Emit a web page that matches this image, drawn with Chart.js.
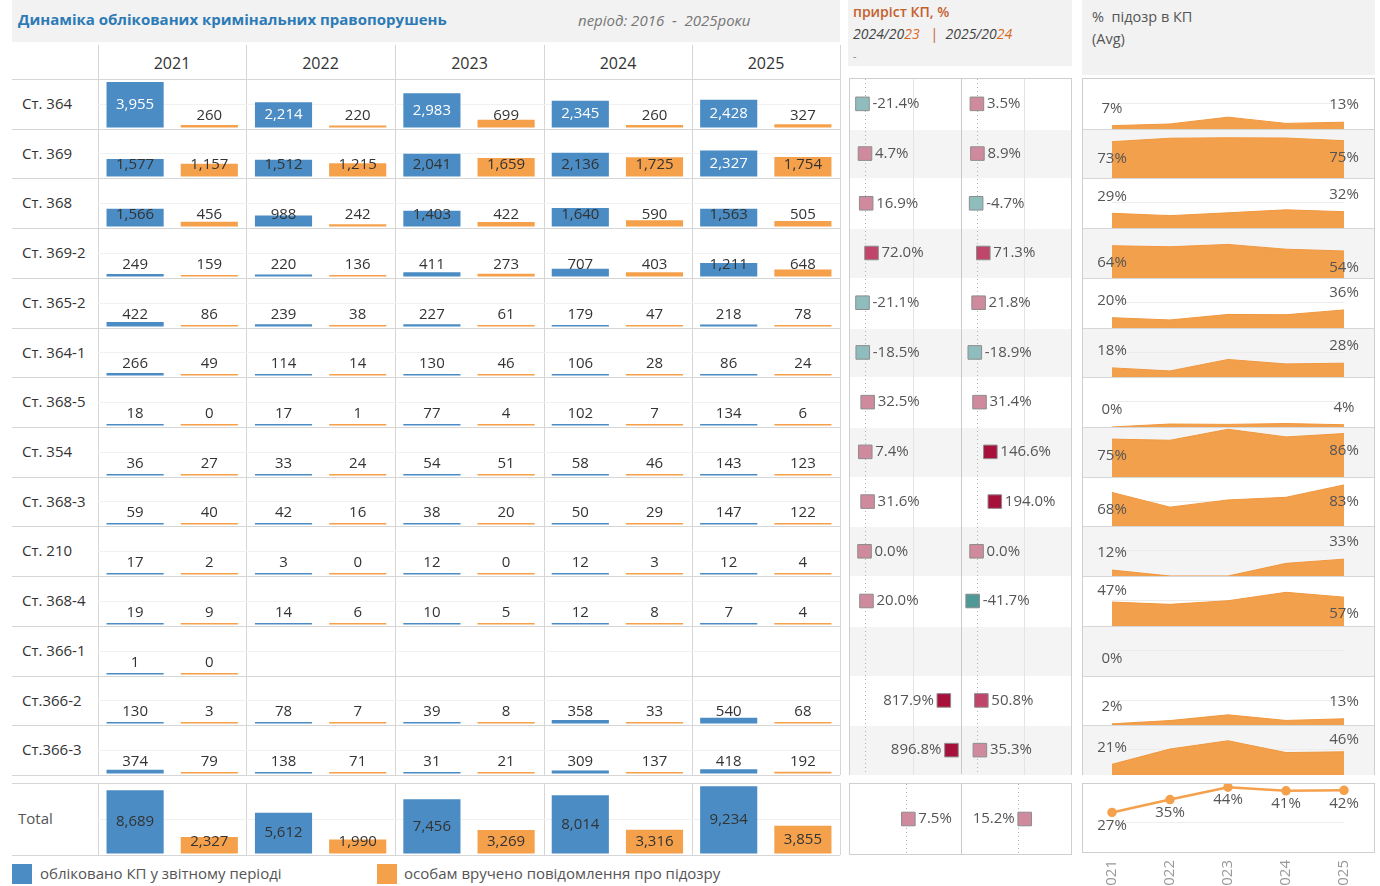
<!DOCTYPE html>
<html>
<head>
<meta charset="utf-8">
<script src="https://cdn.jsdelivr.net/npm/chart.js@4.4.1/dist/chart.umd.min.js"></script>
<style>
  body { margin: 0; background: #fff; }
  #root { position: relative; width: 1380px; height: 886px; overflow: hidden; font-family: 'Open Sans', 'Noto Sans', sans-serif; color: #333; }
  #root div, #root canvas { position: absolute; }
  .t { white-space: nowrap; line-height: 1; }
</style>
</head>
<body>
<div id="root"></div>
<script>
// ---- data ----
const years = ['2021', '2022', '2023', '2024', '2025'];
const articles = ['Ст. 364', 'Ст. 369', 'Ст. 368', 'Ст. 369-2', 'Ст. 365-2', 'Ст. 364-1', 'Ст. 368-5',
  'Ст. 354', 'Ст. 368-3', 'Ст. 210', 'Ст. 368-4', 'Ст. 366-1', 'Ст.366-2', 'Ст.366-3'];

// обліковано КП у звітному періоді
const registered = [
  [3955, 2214, 2983, 2345, 2428],
  [1577, 1512, 2041, 2136, 2327],
  [1566, 988, 1403, 1640, 1563],
  [249, 220, 411, 707, 1211],
  [422, 239, 227, 179, 218],
  [266, 114, 130, 106, 86],
  [18, 17, 77, 102, 134],
  [36, 33, 54, 58, 143],
  [59, 42, 38, 50, 147],
  [17, 3, 12, 12, 12],
  [19, 14, 10, 12, 7],
  [1, null, null, null, null],
  [130, 78, 39, 358, 540],
  [374, 138, 31, 309, 418]
];
// особам вручено повідомлення про підозру
const suspected = [
  [260, 220, 699, 260, 327],
  [1157, 1215, 1659, 1725, 1754],
  [456, 242, 422, 590, 505],
  [159, 136, 273, 403, 648],
  [86, 38, 61, 47, 78],
  [49, 14, 46, 28, 24],
  [0, 1, 4, 7, 6],
  [27, 24, 51, 46, 123],
  [40, 16, 20, 29, 122],
  [2, 0, 0, 3, 4],
  [9, 6, 5, 8, 4],
  [0, null, null, null, null],
  [3, 7, 8, 33, 68],
  [79, 71, 21, 137, 192]
];
const totalRegistered = [8689, 5612, 7456, 8014, 9234];
const totalSuspected = [2327, 1990, 3269, 3316, 3855];

// приріст КП, %
const growth2024 = [-21.4, 4.7, 16.9, 72.0, -21.1, -18.5, 32.5, 7.4, 31.6, 0.0, 20.0, null, 817.9, 896.8];
const growth2025 = [3.5, 8.9, -4.7, 71.3, 21.8, -18.9, 31.4, 146.6, 194.0, 0.0, -41.7, null, 50.8, 35.3];
const totalGrowth2024 = 7.5;
const totalGrowth2025 = 15.2;

// % підозр в КП (Avg)
const suspectShare = [
  [6.57, 9.94, 23.43, 11.09, 13.47],
  [73.37, 80.36, 81.28, 80.76, 75.38],
  [29.12, 24.49, 30.08, 35.98, 32.31],
  [63.86, 61.82, 66.42, 57.00, 53.51],
  [20.38, 15.90, 26.87, 26.26, 35.78],
  [18.42, 12.28, 35.38, 26.42, 27.91],
  [0.00, 5.88, 5.19, 6.86, 4.48],
  [75.00, 72.73, 94.44, 79.31, 86.01],
  [67.80, 38.10, 52.63, 58.00, 82.99],
  [11.76, 0.00, 0.00, 25.00, 33.33],
  [47.37, 42.86, 50.00, 66.67, 57.14],
  [0.00, null, null, null, null],
  [2.31, 8.97, 20.51, 9.22, 12.59],
  [21.12, 51.45, 67.74, 44.34, 45.93]
];
const totalShare = [26.78, 35.46, 43.84, 41.38, 41.75];

// ---- layout helpers ----
const FONT = "'Open Sans', 'Noto Sans', sans-serif";
const BLUE = '#4a8cc3';
const ORANGE = '#f5a04b';
const LINE = '#d6d6d6';
const root = document.getElementById('root');
Chart.defaults.font.family = FONT;

function box(x, y, w, h, css) {
  const d = document.createElement('div');
  d.style.cssText = `left:${x}px;top:${y}px;width:${w}px;height:${h}px;` + (css || '');
  root.appendChild(d);
  return d;
}
function text(x, y, str, css) {
  const d = document.createElement('div');
  d.className = 't';
  d.style.cssText = `left:${x}px;top:${y}px;` + (css || '');
  d.innerHTML = str;
  root.appendChild(d);
  return d;
}
function canvas(x, y, w, h) {
  const c = document.createElement('canvas');
  c.width = w; c.height = h;
  c.style.cssText = `left:${x}px;top:${y}px;width:${w}px;height:${h}px;`;
  root.appendChild(c);
  return c;
}

const ROW0 = 79, ROWH = 49.71;
const rowTop = i => Math.round(ROW0 + i * ROWH);
const colX = [98, 246, 395, 544, 692, 840];

// ---- headers / frames ----
box(12, 0, 828, 42, 'background:#f2f2f2;');
text(18, 12, 'Динаміка облікованих кримінальних правопорушень', 'font-size:15px;font-weight:700;color:#2c7bb6;');
text(578, 13, 'період: 2016&nbsp; -&nbsp; 2025роки', 'font-size:15px;font-style:italic;color:#777;');

box(848, 0, 224, 66, 'background:#f2f2f2;');
text(853, 5, 'приріст КП, %', 'font-size:14px;font-weight:600;color:#c4612d;');
text(853, 27, '2024/20<span style="color:#d9691f">23</span>&nbsp;&nbsp;&nbsp;<span style="color:#c4612d;font-style:normal">|</span>&nbsp;&nbsp;2025/20<span style="color:#d9691f">24</span>',
  'font-size:14px;font-style:italic;color:#444;');
text(853, 50, '-', 'font-size:11px;color:#888;');

box(1082, 0, 293, 75, 'background:#f2f2f2;');
text(1092, 10, '%&nbsp; підозр в КП', 'font-size:14.5px;color:#555;');
text(1092, 32, '(Avg)', 'font-size:14.5px;color:#555;');

// main grid lines
for (let i = 0; i <= 14; i++) box(12, rowTop(i), 828, 1, `background:${LINE};`);
colX.forEach(x => box(x, 45, 1, 775 - 45, `background:${LINE};`));
years.forEach((yr, j) => text(colX[j], 55, yr, `width:${colX[j + 1] - colX[j]}px;text-align:center;font-size:16px;color:#333;`));
articles.forEach((a, i) => text(22, rowTop(i) + 17, a, 'font-size:15px;color:#333;'));

// total frame
box(12, 783, 828, 1, `background:${LINE};`);
box(12, 855, 828, 1, `background:${LINE};`);
colX.forEach(x => box(x, 783, 1, 72, `background:${LINE};`));
text(18, 811, 'Total', 'font-size:15px;color:#555;');

// panels: banding + frames
box(849, 78, 223, 697, 'border:1px solid #cfcfcf;box-sizing:border-box;');
box(1082, 78, 293, 697, 'border:1px solid #cfcfcf;box-sizing:border-box;');
for (let i = 0; i < 14; i++) {
  const y = rowTop(i) + 1, h = rowTop(i + 1) - rowTop(i) - 1;
  if (i % 2 === 1) {
    box(850, y, 221, h, 'background:#f4f4f4;');
    box(1083, y, 291, h, 'background:#f4f4f4;');
  }
  if (i > 0) box(1083, rowTop(i), 291, 1, `background:${LINE};`);
}
box(961, 79, 1, 695, 'background:#c9c9c9;');
box(849, 783, 223, 72, 'border:1px solid #cfcfcf;box-sizing:border-box;');
box(961, 784, 1, 70, 'background:#c9c9c9;');
box(1082, 783, 293, 70, 'border:1px solid #cfcfcf;box-sizing:border-box;');

// legend
box(12, 864, 20, 20, `background:${BLUE};`);
text(40, 866, 'обліковано КП у звітному періоді', 'font-size:15px;color:#555;');
box(377, 864, 20, 20, `background:${ORANGE};`);
text(404, 866, 'особам вручено повідомлення про підозру', 'font-size:15px;color:#555;');

// ---- plugins ----
const barLabels = {
  id: 'barLabels',
  afterDatasetsDraw(chart, args, opts) {
    const ctx = chart.ctx;
    ctx.save();
    ctx.font = `15px ${FONT}`;
    ctx.textAlign = 'center';
    ctx.textBaseline = 'middle';
    chart.data.datasets.forEach((ds, di) => {
      chart.getDatasetMeta(di).data.forEach((bar, j) => {
        const v = ds.data[j];
        if (v == null) return;
        const h = bar.base - bar.y;
        const cy = bar.base - Math.max(12, h / 2);
        ctx.fillStyle = (opts.dark || h < 24) ? '#333' : '#fff';
        ctx.fillText(v.toLocaleString('en-US'), bar.x, cy);
      });
    });
    ctx.restore();
  }
};

const growthMarks = {
  id: 'growthMarks',
  beforeDatasetsDraw(chart, args, opts) {
    const ctx = chart.ctx, x = chart.scales.x;
    ctx.save();
    if (opts.grid != null) {
      ctx.strokeStyle = '#e4e4e4';
      ctx.lineWidth = 1;
      const gx = Math.round(x.getPixelForValue(opts.grid)) + 0.5;
      ctx.beginPath(); ctx.moveTo(gx, 0); ctx.lineTo(gx, chart.height); ctx.stroke();
    }
    ctx.strokeStyle = '#b5b5b5';
    ctx.setLineDash([1, 3]);
    const zx = Math.round(x.getPixelForValue(0)) + 0.5;
    ctx.beginPath(); ctx.moveTo(zx, 0); ctx.lineTo(zx, chart.height); ctx.stroke();
    ctx.restore();
  },
  afterDatasetsDraw(chart) {
    const ctx = chart.ctx, a = chart.chartArea;
    ctx.save();
    ctx.font = `15px ${FONT}`;
    ctx.fillStyle = '#555';
    ctx.textBaseline = 'middle';
    chart.getDatasetMeta(0).data.forEach((pt, j) => {
      const v = chart.data.datasets[0].data[j].x;
      const s = v.toFixed(1) + '%';
      const w = ctx.measureText(s).width;
      if (pt.x + 10 + w <= a.right) {
        ctx.textAlign = 'left';
        ctx.fillText(s, pt.x + 10, pt.y);
      } else {
        ctx.textAlign = 'right';
        ctx.fillText(s, pt.x - 10, pt.y);
      }
    });
    ctx.restore();
  }
};

const shareLabels = {
  id: 'shareLabels',
  afterDatasetsDraw(chart, args, opts) {
    const ctx = chart.ctx;
    const data = chart.data.datasets[0].data;
    const pts = chart.getDatasetMeta(0).data;
    ctx.save();
    ctx.font = `15px ${FONT}`;
    ctx.fillStyle = '#555';
    ctx.textAlign = 'center';
    ctx.textBaseline = 'middle';
    let idx = opts.all ? data.map((v, j) => j) : [0, data.length - 1];
    idx = idx.filter((j, k, arr) => data[j] != null && arr.indexOf(j) === k);
    idx.forEach(j => {
      const p = pts[j];
      let cy;
      if (opts.all) cy = p.y + 13;
      else if (p.y >= 24) cy = Math.max(p.y - 17, 14);
      else cy = p.y + 17;
      ctx.fillText(Math.round(data[j]) + '%', p.x, cy);
    });
    ctx.restore();
  }
};

function squareColor(v) {
  if (v < -30) return '#4f9a96';
  if (v < 0) return '#8fbdbd';
  if (v <= 45) return '#d08a9e';
  if (v <= 100) return '#c0456b';
  return '#a8103c';
}

const baseOpts = {
  responsive: false,
  animation: false,
  events: [],
  layout: { padding: 0, autoPadding: false }
};

// ---- main bar rows ----
function barChart(cv, reg, sus, yMax, step, dark) {
  return new Chart(cv, {
    type: 'bar',
    data: {
      labels: years,
      datasets: [
        { data: reg, backgroundColor: BLUE, categoryPercentage: 1, barPercentage: 0.77, minBarLength: 2 },
        { data: sus, backgroundColor: ORANGE, categoryPercentage: 1, barPercentage: 0.77, minBarLength: 2 }
      ]
    },
    options: {
      ...baseOpts,
      plugins: { legend: { display: false }, tooltip: { enabled: false }, barLabels: { dark } },
      scales: {
        x: { display: false },
        y: {
          min: 0, max: yMax,
          ticks: { display: false, stepSize: step },
          grid: { drawTicks: false, color: c => (c.tick.value > 0 && c.tick.value < yMax) ? '#f1f1f1' : 'transparent' },
          border: { display: false }
        }
      }
    },
    plugins: [barLabels]
  });
}

articles.forEach((a, i) => {
  const y = rowTop(i) + 1, h = rowTop(i + 1) - rowTop(i) - 2;
  barChart(canvas(98, y, 742, h), registered[i], suspected[i], 4120, 2000, false);
});
barChart(canvas(98, 785, 742, 69), totalRegistered, totalSuspected, 9400, 5000, true);

// ---- growth squares ----
function growthChart(cv, values, rows, xmin, xmax, grid) {
  const pts = [];
  values.forEach((v, i) => { if (v != null) pts.push({ x: v, y: i }); });
  return new Chart(cv, {
    type: 'scatter',
    data: {
      datasets: [{
        data: pts,
        pointStyle: 'rect',
        pointRadius: 9.6,
        backgroundColor: c => squareColor(c.raw.x),
        borderColor: '#8d8d8d',
        borderWidth: 1,
        clip: false
      }]
    },
    options: {
      ...baseOpts,
      plugins: { legend: { display: false }, tooltip: { enabled: false }, growthMarks: { grid } },
      scales: {
        x: { type: 'linear', display: false, min: xmin, max: xmax },
        y: { type: 'linear', display: false, reverse: true, min: -0.5, max: rows - 0.5 }
      }
    },
    plugins: [growthMarks]
  });
}
growthChart(canvas(850, 79, 111, 696), growth2024, 14, -150, 995, 500);
growthChart(canvas(962, 79, 110, 696), growth2025, 14, -155, 1015, 500);
growthChart(canvas(850, 784, 111, 70), [totalGrowth2024], 1, -187, 183, null);
growthChart(canvas(962, 784, 109, 70), [totalGrowth2025], 1, -124, 118, null);

// ---- share area rows ----
articles.forEach((a, i) => {
  const y = rowTop(i) + 1, h = rowTop(i + 1) - rowTop(i) - 1;
  new Chart(canvas(1083, y, 291, h), {
    type: 'line',
    data: {
      labels: years,
      datasets: [{
        data: suspectShare[i],
        fill: 'origin',
        backgroundColor: '#f3a04c',
        borderColor: '#f0973e',
        borderWidth: 1,
        pointRadius: 0,
        tension: 0
      }]
    },
    options: {
      ...baseOpts,
      layout: { padding: { left: 29, right: 30 }, autoPadding: false },
      plugins: { legend: { display: false }, tooltip: { enabled: false }, shareLabels: { all: false } },
      scales: {
        x: { display: false, offset: false },
        y: {
          min: 0, max: 97,
          ticks: { display: false, stepSize: 50 },
          grid: { drawTicks: false, color: c => c.tick.value === 50 ? '#ececec' : 'transparent' },
          border: { display: false }
        }
      }
    },
    plugins: [shareLabels]
  });
});

// total share line
new Chart(canvas(1083, 784, 291, 102), {
  type: 'line',
  data: {
    labels: years,
    datasets: [{
      data: totalShare,
      borderColor: ORANGE,
      backgroundColor: ORANGE,
      borderWidth: 2.5,
      pointRadius: 3.5,
      pointBackgroundColor: ORANGE,
      tension: 0,
      clip: false
    }]
  },
  options: {
    ...baseOpts,
    layout: { padding: { left: 29, right: 30 }, autoPadding: false },
    plugins: { legend: { display: false }, tooltip: { enabled: false }, shareLabels: { all: true } },
    scales: {
      x: {
        offset: false,
        grid: { display: false, drawTicks: false },
        border: { display: false },
        ticks: { autoSkip: false, minRotation: 90, maxRotation: 90, padding: 8, color: '#999', font: { size: 15 } },
        afterFit: s => { s.height = 34; }
      },
      y: {
        min: 0, max: 46,
        ticks: { display: false, stepSize: 20 },
        grid: { drawTicks: false, color: c => (c.tick.value === 20 || c.tick.value === 40) ? '#eeeeee' : 'transparent' },
        border: { display: false }
      }
    }
  },
  plugins: [shareLabels]
});
</script>
</body>
</html>
